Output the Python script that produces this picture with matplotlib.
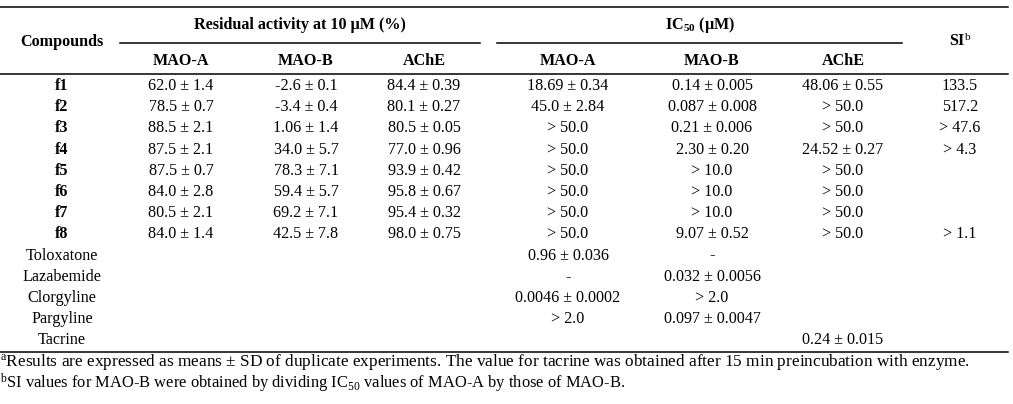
import matplotlib
matplotlib.use("Agg")
import matplotlib.pyplot as plt

plt.rcParams['font.family'] = ['Liberation Serif', 'DejaVu Serif']
plt.rcParams['mathtext.fontset'] = 'custom'
plt.rcParams['mathtext.rm'] = 'Liberation Serif'
plt.rcParams['mathtext.bf'] = 'Liberation Serif:bold'
plt.rcParams['mathtext.it'] = 'Liberation Serif:italic'

# ---- data ----
compounds = ["f1", "f2", "f3", "f4", "f5", "f6", "f7", "f8",
             "Toloxatone", "Lazabemide", "Clorgyline", "Pargyline", "Tacrine"]
bold_rows = [True] * 8 + [False] * 5
res_maoa = ["62.0 ± 1.4", "78.5 ± 0.7", "88.5 ± 2.1", "87.5 ± 2.1", "87.5 ± 0.7",
            "84.0 ± 2.8", "80.5 ± 2.1", "84.0 ± 1.4", "", "", "", "", ""]
res_maob = ["-2.6 ± 0.1", "-3.4 ± 0.4", "1.06 ± 1.4", "34.0 ± 5.7", "78.3 ± 7.1",
            "59.4 ± 5.7", "69.2 ± 7.1", "42.5 ± 7.8", "", "", "", "", ""]
res_ache = ["84.4 ± 0.39", "80.1 ± 0.27", "80.5 ± 0.05", "77.0 ± 0.96", "93.9 ± 0.42",
            "95.8 ± 0.67", "95.4 ± 0.32", "98.0 ± 0.75", "", "", "", "", ""]
ic50_maoa = ["18.69 ± 0.34", "45.0 ± 2.84", "> 50.0", "> 50.0", "> 50.0", "> 50.0",
             "> 50.0", "> 50.0", "0.96 ± 0.036", "-", "0.0046 ± 0.0002", "> 2.0", ""]
ic50_maob = ["0.14 ± 0.005", "0.087 ± 0.008", "0.21 ± 0.006", "2.30 ± 0.20", "> 10.0",
             "> 10.0", "> 10.0", "9.07 ± 0.52", "-", "0.032 ± 0.0056", "> 2.0",
             "0.097 ± 0.0047", ""]
ic50_ache = ["48.06 ± 0.55", "> 50.0", "> 50.0", "24.52 ± 0.27", "> 50.0", "> 50.0",
             "> 50.0", "> 50.0", "", "", "", "", "0.24 ± 0.015"]
si = ["133.5", "517.2", "> 47.6", "> 4.3", "", "", "", "> 1.1", "", "", "", "", ""]
sub_headers = ["MAO-A", "MAO-B", "AChE", "MAO-A", "MAO-B", "AChE"]
footnote_a = r"$^{\mathrm{a}}$Results are expressed as means ± SD of duplicate experiments. The value for tacrine was obtained after 15 min preincubation with enzyme."
footnote_b = r"$^{\mathrm{b}}$SI values for MAO-B were obtained by dividing IC$_{\mathrm{50}}$ values of MAO-A by those of MAO-B."

# ---- layout ----
W, H = 1013, 404
fig = plt.figure(figsize=(W / 100, H / 100), dpi=100)
ax = fig.add_axes([0, 0, 1, 1])
ax.set_xlim(0, W)
ax.set_ylim(H, 0)
ax.axis('off')

fs = 11.6
col_x = [62, 181, 306, 424, 568, 712, 843, 960]
y0, dy = 90, 21.2   # baseline of first body row, row pitch

# rules
lw = 1.1
ax.plot([0, 1008], [7.3, 7.3], color='black', lw=lw)
ax.plot([120, 480], [43, 43], color='black', lw=lw)
ax.plot([497, 902], [43, 43], color='black', lw=lw)
ax.plot([0, 1008], [74, 74], color='black', lw=lw)
ax.plot([0, 1008], [351.5, 351.5], color='black', lw=lw)

# headers
kw = dict(ha='center', va='baseline', fontsize=fs, fontweight='bold')
ax.text(col_x[0], 46, "Compounds", **kw)
ax.text(300, 29, "Residual activity at 10 μM (%)", **kw)
ax.text(700, 29, r"IC$_{\mathbf{50}}$ (μM)", **kw)
ax.text(col_x[7], 46, r"SI$^{\mathrm{b}}$", **kw)
for x, h in zip(col_x[1:7], sub_headers):
    ax.text(x, 65, h, **kw)

# body
cols = [res_maoa, res_maob, res_ache, ic50_maoa, ic50_maob, ic50_ache, si]
for i, name in enumerate(compounds):
    y = y0 + i * dy
    ax.text(col_x[0], y, name, ha='center', va='baseline', fontsize=fs,
            fontweight='bold' if bold_rows[i] else 'normal')
    for x, col in zip(col_x[1:], cols):
        if col[i]:
            ax.text(x, y, col[i], ha='center', va='baseline', fontsize=fs)

ax.text(0, 366, footnote_a, ha='left', va='baseline', fontsize=12.4)
ax.text(0, 388, footnote_b, ha='left', va='baseline', fontsize=11.9)

fig.savefig("out.png", dpi=100)
